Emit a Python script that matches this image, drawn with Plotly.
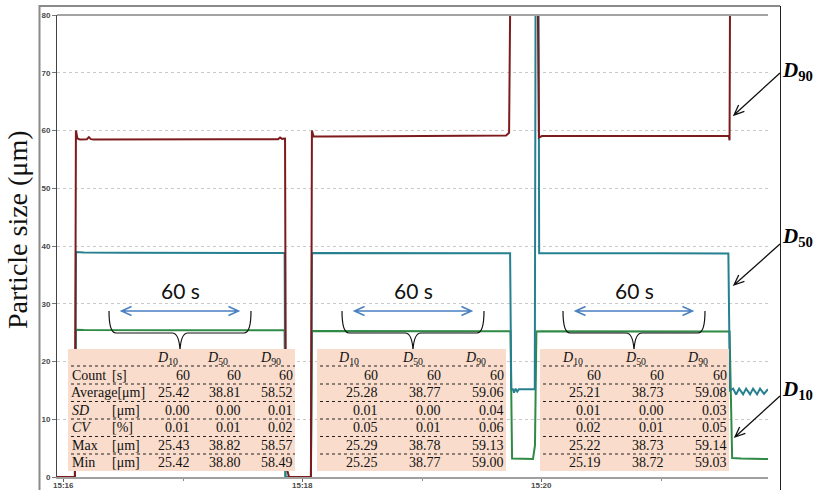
import plotly.graph_objects as go

# ---------------------------------------------------------------------------
# Time series of particle size percentiles (laser diffraction, one reading/s)
# ---------------------------------------------------------------------------
DAY = "2024-05-16 "

d90_time = ["15:15:56.5", "15:16:05.5", "15:16:06.0", "15:16:06.8", "15:16:08", "15:16:11.5",
            "15:16:12.5", "15:16:13.5", "15:16:15", "15:16:40", "15:17:20", "15:17:47.5",
            "15:17:48.5", "15:17:49.5", "15:17:51.0", "15:17:51.5", "15:17:53", "15:18:04",
            "15:18:04.5", "15:18:05.3", "15:18:10", "15:18:40", "15:19:20", "15:19:42",
            "15:19:43.5", "15:19:44.5", "15:19:57.5", "15:19:58.5", "15:20:00", "15:21:00",
            "15:21:33.8", "15:21:34.2", "15:21:34.6", "15:21:53.5"]
d90_size = [0, 0, 60.0, 58.6, 58.45, 58.5,
            58.85, 58.5, 58.45, 58.5, 58.5, 58.5,
            58.8, 58.55, 58.6, 2.0, 0, 0,
            60.0, 59.0, 58.95, 59.0, 59.1, 59.15,
            59.6, 100, 100, 58.8, 59.05, 59.1,
            59.1, 58.3, 100, 100]

d50_time = ["15:15:56.5", "15:16:05.5", "15:16:06.0", "15:16:10", "15:16:30", "15:17:00",
            "15:17:50.8", "15:17:51.2", "15:18:04", "15:18:04.5", "15:19:20", "15:19:44",
            "15:19:44.6", "15:19:45.4", "15:19:46", "15:19:46.8", "15:19:47.6", "15:19:48.4",
            "15:19:56.4", "15:19:56.9", "15:19:58.2", "15:19:58.6", "15:21:00", "15:21:33.6",
            "15:21:34.4", "15:21:36", "15:21:37.5", "15:21:39", "15:21:41", "15:21:42.5",
            "15:21:44.5", "15:21:46", "15:21:48", "15:21:49.5", "15:21:51.5", "15:21:53.5"]
d50_size = [0, 0, 38.95, 38.88, 38.82, 38.8,
            38.78, 0, 0, 38.8, 38.77, 38.76,
            15.2, 15.2, 14.6, 15.3, 14.8, 15.2,
            15.2, 100, 100, 38.75, 38.73, 38.72,
            15.0, 15.3, 14.3, 15.3, 14.3, 15.3,
            14.3, 15.3, 14.3, 15.3, 14.4, 15.2]

d10_time = ["15:15:56.5", "15:16:05.5", "15:16:06.0", "15:16:10", "15:17:00", "15:17:50.8",
            "15:17:51.2", "15:18:04", "15:18:04.5", "15:19:20", "15:19:44.2", "15:19:45.0",
            "15:19:55.5", "15:19:56.5", "15:19:57.2", "15:20:00", "15:21:00", "15:21:34.2",
            "15:21:35.5", "15:21:40", "15:21:53.5"]
d10_size = [0, 0, 25.5, 25.45, 25.42, 25.4,
            0, 0, 25.3, 25.28, 25.25, 3.2,
            3.1, 5.5, 25.2, 25.22, 25.21, 25.2,
            3.3, 3.2, 3.1]

# Statistics of the three 60 s measuring windows
stat_names = ["Count", "Average", "<i>SD</i>", "<i>CV</i>", "Max", "Min"]
stat_units = ["[s]", "[μm]", "[μm]", "[%]", "[μm]", "[μm]"]
column_heads = ["<i>D</i><sub>10</sub>", "<i>D</i><sub>50</sub>", "<i>D</i><sub>90</sub>"]

win1_d10 = [60, 25.42, 0.00, 0.01, 25.43, 25.42]
win1_d50 = [60, 38.81, 0.00, 0.01, 38.82, 38.80]
win1_d90 = [60, 58.52, 0.01, 0.02, 58.57, 58.49]
win2_d10 = [60, 25.28, 0.01, 0.05, 25.29, 25.25]
win2_d50 = [60, 38.77, 0.00, 0.01, 38.78, 38.77]
win2_d90 = [60, 59.06, 0.04, 0.06, 59.13, 59.00]
win3_d10 = [60, 25.21, 0.01, 0.02, 25.22, 25.19]
win3_d50 = [60, 38.73, 0.00, 0.01, 38.73, 38.72]
win3_d90 = [60, 59.08, 0.03, 0.05, 59.14, 59.03]

window_label = "60 s"
curve_labels = ["90", "50", "10"]

x_tick_values = ["15:16", "15:18", "15:20"]

# ---------------------------------------------------------------------------
W, H = 814, 490
ML, MR, MT, MB = 57, 46, 15, 13
PW, PH = W - ML - MR, H - MT - MB


def px(x):
    return (x - ML) / PW


def py(y):
    return (H - MB - y) / PH


C_D90 = "#7d1a1c"
C_D50 = "#26808f"
C_D10 = "#2f8a45"

fig = go.Figure()
for t, v, c in [(d10_time, d10_size, C_D10), (d50_time, d50_size, C_D50), (d90_time, d90_size, C_D90)]:
    fig.add_trace(go.Scatter(x=[DAY + s for s in t], y=v, mode="lines",
                             line=dict(color=c, width=2), showlegend=False, hoverinfo="skip"))

shapes = []
annotations = []

# frame around the chart
shapes.append(dict(type="path", xref="paper", yref="paper",
                   path=f"M {px(39.5)},{py(495)} L {px(39.5)},{py(6)} L {px(780)},{py(6)}",
                   line=dict(color="#8a8a8a", width=2)))
shapes.append(dict(type="line", xref="paper", yref="paper", x0=px(780.5), x1=px(780.5),
                   y0=py(6), y1=py(495), line=dict(color="#222", width=1)))
# top border of the plotting area
shapes.append(dict(type="line", xref="paper", yref="paper", x0=0, x1=1, y0=1, y1=1,
                   line=dict(color="#a3a3a3", width=2)))


def chevron_arrow(x0, y0, x1, y1, color, width, barb=10, spread=0.45, both=False):
    import math
    ang = math.atan2(y1 - y0, x1 - x0)

    def head(hx, hy, a):
        p1 = (hx - barb * math.cos(a - spread), hy - barb * math.sin(a - spread))
        p2 = (hx - barb * math.cos(a + spread), hy - barb * math.sin(a + spread))
        return f" M {px(p1[0])},{py(p1[1])} L {px(hx)},{py(hy)} L {px(p2[0])},{py(p2[1])}"

    path = f"M {px(x0)},{py(y0)} L {px(x1)},{py(y1)}" + head(x1, y1, ang)
    if both:
        path += head(x0, y0, ang + math.pi)
    return dict(type="path", xref="paper", yref="paper", path=path,
                line=dict(color=color, width=width), layer="above")


# "60 s" markers with braces over each plateau
for c in [180, 413, 634]:
    annotations.append(dict(x=px(c), y=py(290), xref="paper", yref="paper", text=window_label,
                            showarrow=False, xanchor="center", yanchor="middle",
                            font=dict(family="Lato", size=21, color="#111")))
    shapes.append(chevron_arrow(c - 58.5, 311, c + 58.5, 311, "#4a7fc1", 1.5, barb=11, spread=0.42, both=True))
    hw = 71
    bp = (f"M {px(c - hw)},{py(311)} Q {px(c - hw)},{py(333)} {px(c - hw + 7)},{py(333)} "
          f"L {px(c - 8)},{py(333)} Q {px(c - 1)},{py(333)} {px(c)},{py(350)} "
          f"Q {px(c + 1)},{py(333)} {px(c + 8)},{py(333)} "
          f"L {px(c + hw - 7)},{py(333)} Q {px(c + hw)},{py(333)} {px(c + hw)},{py(311)}")
    shapes.append(dict(type="path", xref="paper", yref="paper", path=bp,
                       line=dict(color="#111", width=1.2), layer="above"))

# statistics tables
tables = [
    dict(left=68, right=295, col_right=[191, 242, 294], heads=[167, 217, 270],
         cols=[win1_d10, win1_d50, win1_d90], labels=True),
    dict(left=317, right=506, col_right=[379, 442, 505], heads=[348, 412, 475],
         cols=[win2_d10, win2_d50, win2_d90], labels=False),
    dict(left=540, right=729, col_right=[602, 665, 728], heads=[572, 635, 697],
         cols=[win3_d10, win3_d50, win3_d90], labels=False),
]
tab_top, tab_bottom = 349, 471
head_y = 358
row_y = [375, 392.5, 410, 427.5, 445, 462]
sep_y = [366, 384, 401.5, 419, 436.5, 454]
serif = "Liberation Serif"

for tb in tables:
    shapes.append(dict(type="rect", xref="paper", yref="paper", x0=px(tb["left"]), x1=px(tb["right"]),
                       y0=py(tab_bottom), y1=py(tab_top), fillcolor="#f9dccb",
                       line=dict(width=0), layer="above"))
    for sy in sep_y:
        shapes.append(dict(type="line", xref="paper", yref="paper", x0=px(tb["left"] + 3),
                           x1=px(tb["right"]), y0=py(sy), y1=py(sy),
                           line=dict(color="#222", width=1, dash="dot"), layer="above"))
    for hx, ht in zip(tb["heads"], column_heads):
        annotations.append(dict(x=px(hx), y=py(head_y), xref="paper", yref="paper", text=ht,
                                showarrow=False, xanchor="center", yanchor="middle",
                                font=dict(family=serif, size=14, color="#111")))
    for xr, col in zip(tb["col_right"], tb["cols"]):
        for i, v in enumerate(col):
            txt = str(int(v)) if i == 0 else f"{v:.2f}"
            annotations.append(dict(x=px(xr + 1), y=py(row_y[i]), xref="paper", yref="paper", text=txt,
                                    showarrow=False, xanchor="right", yanchor="middle",
                                    font=dict(family=serif, size=14, color="#111")))
    if tb["labels"]:
        for i, (nm, un) in enumerate(zip(stat_names, stat_units)):
            if i == 1:
                annotations.append(dict(x=px(69), y=py(row_y[i]), xref="paper", yref="paper",
                                        text=nm + un, showarrow=False, xanchor="left", yanchor="middle",
                                        font=dict(family=serif, size=14, color="#111")))
            else:
                annotations.append(dict(x=px(70), y=py(row_y[i]), xref="paper", yref="paper",
                                        text=nm, showarrow=False, xanchor="left", yanchor="middle",
                                        font=dict(family=serif, size=14, color="#111")))
                annotations.append(dict(x=px(110), y=py(row_y[i]), xref="paper", yref="paper",
                                        text=un, showarrow=False, xanchor="left", yanchor="middle",
                                        font=dict(family=serif, size=14, color="#111")))

# curve labels on the right
for lab, ly, (ax0, ay0, ax1, ay1) in zip(curve_labels, [71, 237, 390],
                                          [(780, 73, 734, 115), (780, 244, 734, 285), (780, 396, 735, 437)]):
    annotations.append(dict(x=px(780), y=py(ly), xref="paper", yref="paper",
                            text=f"<b><i>D</i><sub>{lab}</sub></b>", showarrow=False,
                            xanchor="left", yanchor="middle",
                            font=dict(family=serif, size=21, color="#000")))
    shapes.append(chevron_arrow(ax0, ay0, ax1, ay1, "#111", 1.3, barb=11, spread=0.4))

# y axis title
annotations.append(dict(x=px(18), y=py(230), xref="paper", yref="paper", text="Particle size (μm)",
                        textangle=-90, showarrow=False, xanchor="center", yanchor="middle",
                        font=dict(family=serif, size=28, color="#111")))

tick_font = dict(family="Liberation Sans", size=8, color="#4a4a4a", weight="bold")

# time labels under the axis, placed at their tick times
for v in x_tick_values:
    annotations.append(dict(x=DAY + v, xref="x", y=py(485.5), yref="paper", text=v,
                            showarrow=False, xanchor="center", yanchor="middle",
                            borderpad=0, font=tick_font))

fig.update_layout(
    width=W, height=H,
    margin=dict(l=ML, r=MR, t=MT, b=MB, pad=0, autoexpand=False),
    paper_bgcolor="white", plot_bgcolor="white",
    hovermode=False,
    shapes=shapes,
    annotations=annotations,
    xaxis=dict(
        type="date", automargin=False,
        range=[DAY + "15:15:56.5", DAY + "15:21:53.5"],
        tickvals=[DAY + v for v in x_tick_values],
        showticklabels=False,
        ticks="outside", ticklen=3, tickcolor="#666", tickwidth=1,
        minor=dict(tickvals=[DAY + "15:17", DAY + "15:19", DAY + "15:21"], ticks="outside",
                   ticklen=2, tickcolor="#888"),
        showgrid=False, zeroline=False,
        showline=True, linecolor="#a0a0a0", linewidth=2,
    ),
    yaxis=dict(
        automargin=False,
        range=[0, 80], dtick=10, tick0=0,
        ticks="outside", ticklen=4, tickcolor="#777", tickwidth=1,
        showgrid=True, gridcolor="#c9c9c9", gridwidth=1, griddash="3px,3px",
        zeroline=False,
        showline=True, linecolor="#444", linewidth=1,
        tickfont=tick_font,
    ),
)

fig.write_html("out.html")
